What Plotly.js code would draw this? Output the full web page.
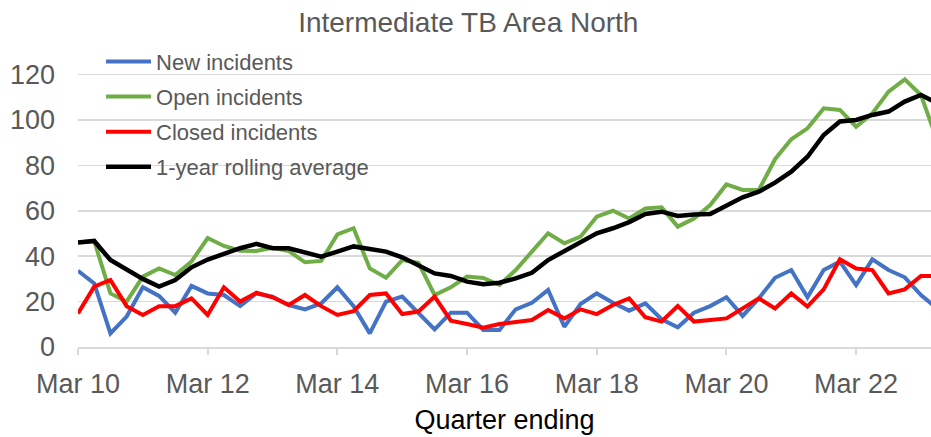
<!DOCTYPE html>
<html>
<head>
<meta charset="utf-8">
<script src="https://cdn.plot.ly/plotly-3.0.1.min.js"></script>
<style>
  html, body { margin: 0; padding: 0; background: #ffffff; }
  #chart { width: 931px; height: 437px; }
</style>
</head>
<body>
<div id="chart"></div>
<script>
// Quarter labels (quarter ending)
var quarters = [
  "Mar 10","Jun 10","Sep 10","Dec 10",
  "Mar 11","Jun 11","Sep 11","Dec 11",
  "Mar 12","Jun 12","Sep 12","Dec 12",
  "Mar 13","Jun 13","Sep 13","Dec 13",
  "Mar 14","Jun 14","Sep 14","Dec 14",
  "Mar 15","Jun 15","Sep 15","Dec 15",
  "Mar 16","Jun 16","Sep 16","Dec 16",
  "Mar 17","Jun 17","Sep 17","Dec 17",
  "Mar 18","Jun 18","Sep 18","Dec 18",
  "Mar 19","Jun 19","Sep 19","Dec 19",
  "Mar 20","Jun 20","Sep 20","Dec 20",
  "Mar 21","Jun 21","Sep 21","Dec 21",
  "Mar 22","Jun 22","Sep 22","Dec 22",
  "Mar 23","Jun 23"
];

var newIncidents = [
  33.6, 28, 6, 13.4, 26.3, 22.5, 15.1, 26.9,
  23.6, 22.9, 18, 23.6, 22.2, 18.5, 16.6, 19.2,
  26.3, 18, 6, 20, 22.2, 14.8, 7.8, 15.1,
  15.1, 7.5, 7.5, 16.6, 19.5, 25.1, 8.9, 18.9,
  23.6, 19.5, 16, 19.2, 12.2, 8.7, 15.1, 18,
  21.9, 13.7, 21.4, 30.5, 33.9, 21.9, 33.9, 37.6,
  27.3, 38.6, 33.9, 30.7, 22.9, 17
];

var openIncidents = [
  46, 46.7, 23.6, 20, 31, 34.6, 31.7, 37.6,
  48, 44.5, 42.4, 42.3, 43.7, 42.3, 37.3, 37.9,
  49.6, 52.3, 34.6, 30.5, 38.3, 37.1, 22.9, 26.3,
  31, 30.4, 27.3, 33.9, 42, 50.1, 45.7, 48.6,
  57.4, 60, 56.6, 61, 61.5, 53, 56.6, 62.5,
  71.6, 69.2, 69.2, 82.7, 91.5, 96.3, 105.1, 104.4,
  97, 102.9, 112.5, 117.9, 111, 91
];

var closedIncidents = [
  14.8, 26.6, 29.5, 18, 14.1, 18, 18, 21.4,
  14.1, 26.3, 20, 23.9, 21.9, 18.5, 22.9, 18,
  14.1, 15.8, 22.9, 23.6, 14.5, 15.6, 22.2, 11.6,
  10.1, 8.5, 10.1, 11.2, 11.9, 16.3, 12.6, 16.6,
  14.5, 18.5, 21.4, 13.1, 11.2, 18, 11.2, 11.9,
  12.6, 17, 21.4, 17, 23.6, 17.8, 25.4, 38.6,
  34.6, 33.9, 23.6, 25.4, 31.3, 31.3
];

var rollingAverage = [
  46, 46.7, 38.3, 34.2, 30, 26.6, 29.5, 35.1,
  38.5, 41, 43.5, 45.4, 43.5, 43.5, 41.7, 39.8,
  42, 44.3, 43.2, 42, 39.5, 36.1, 32.4, 31.3,
  28.8, 27.6, 28.3, 30.2, 32.7, 38.3, 42.4, 46.4,
  50.1, 52.3, 55, 58.6, 59.6, 57.7, 58.4, 58.6,
  62.1, 65.9, 68.4, 72.4, 77.2, 83.8, 93.4, 99.3,
  100, 102.2, 103.7, 108.1, 111, 107.5
];

var seriesNames = ["New incidents", "Open incidents", "Closed incidents", "1-year rolling average"];
var seriesColors = ["#4472C4", "#70AD47", "#FF0000", "#000000"];
var seriesData = [newIncidents, openIncidents, closedIncidents, rollingAverage];
var tickLabels = ["Mar 10","Mar 12","Mar 14","Mar 16","Mar 18","Mar 20","Mar 22"];

var traces = seriesData.map(function (vals, k) {
  return {
    type: "scatter",
    mode: "lines",
    x: quarters,
    y: vals,
    name: seriesNames[k],
    legendgroup: "g" + k,
    line: { color: seriesColors[k], width: k === 3 ? 4.5 : 4, shape: "linear" },
    hoverinfo: "x+y+name"
  };
});

var font = "Liberation Sans, Arial, sans-serif";

var layout = {
  width: 931,
  height: 437,
  margin: { l: 78, r: 0, t: 70, b: 90 },
  paper_bgcolor: "#ffffff",
  plot_bgcolor: "#ffffff",
  title: {
    text: "Intermediate TB Area North",
    font: { family: font, size: 28, color: "#595959" },
    x: 0.503,
    xanchor: "center",
    y: 0.95,
    yanchor: "middle"
  },
  showlegend: true,
  legend: {
    x: 0.027,
    xanchor: "left",
    y: 1.106,
    yanchor: "top",
    bgcolor: "rgba(0,0,0,0)",
    borderwidth: 0,
    font: { family: font, size: 22, color: "#595959" },
    tracegroupgap: 3.5,
    itemwidth: 45
  },
  xaxis: {
    type: "category",
    range: [0, 52.62],
    tickmode: "array",
    tickvals: tickLabels,
    ticktext: tickLabels,
    ticks: "outside",
    ticklen: 6,
    tickwidth: 2,
    tickcolor: "#d9d9d9",
    showline: true,
    linecolor: "#d9d9d9",
    linewidth: 2,
    showgrid: false,
    zeroline: false,
    tickangle: 0,
    ticklabelstandoff: 6,
    tickfont: { family: font, size: 27, color: "#595959" },
    title: {
      text: "Quarter ending",
      font: { family: font, size: 27, color: "#000000" },
      standoff: 12
    },
    fixedrange: true
  },
  yaxis: {
    range: [0, 122],
    tickmode: "array",
    tickvals: [0, 20, 40, 60, 80, 100, 120],
    ticks: "",
    showgrid: true,
    gridcolor: "#d9d9d9",
    gridwidth: 1.5,
    zeroline: false,
    showline: false,
    ticklabelstandoff: 22,
    tickfont: { family: font, size: 27, color: "#595959" },
    fixedrange: true
  }
};

Plotly.newPlot("chart", traces, layout, { displayModeBar: false, staticPlot: true });
</script>
</body>
</html>
